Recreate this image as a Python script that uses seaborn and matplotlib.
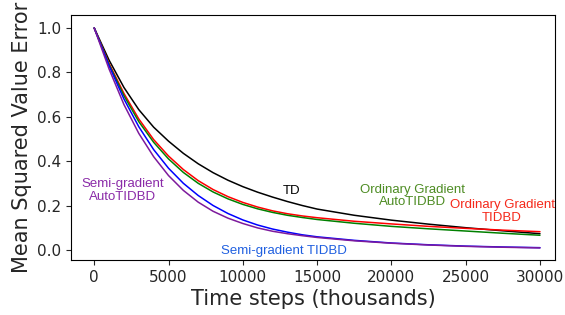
import numpy as np
import pandas as pd
import seaborn as sns
import matplotlib
matplotlib.use("Agg")
import matplotlib.pyplot as plt

steps = [0, 1000, 2000, 3000, 4000, 5000, 6000, 7000, 8000, 9000, 10000,
         11000, 12000, 13000, 14000, 15000, 17500, 20000, 22500, 25000,
         27500, 30000]

td = [1.0, 0.855, 0.732, 0.632, 0.553, 0.49, 0.435, 0.388, 0.348, 0.314, 0.285,
      0.26, 0.238, 0.218, 0.2, 0.184, 0.156, 0.134, 0.116, 0.1, 0.086, 0.073]
og_tidbd = [1.0, 0.84, 0.705, 0.59, 0.497, 0.423, 0.362, 0.312, 0.272, 0.24, 0.214,
            0.193, 0.176, 0.163, 0.153, 0.145, 0.129, 0.117, 0.106, 0.097, 0.089, 0.082]
og_auto = [1.0, 0.835, 0.695, 0.578, 0.485, 0.41, 0.349, 0.3, 0.261, 0.23, 0.205,
           0.185, 0.169, 0.156, 0.146, 0.137, 0.12, 0.106, 0.095, 0.085, 0.075, 0.066]
sg_tidbd = [1.0, 0.83, 0.68, 0.555, 0.452, 0.368, 0.30, 0.245, 0.2, 0.164, 0.135,
            0.112, 0.094, 0.08, 0.068, 0.059, 0.043, 0.031, 0.023, 0.017, 0.013, 0.01]
sg_auto = [1.0, 0.815, 0.655, 0.525, 0.42, 0.335, 0.268, 0.215, 0.174, 0.143, 0.119,
           0.099, 0.084, 0.073, 0.064, 0.056, 0.041, 0.03, 0.022, 0.016, 0.012, 0.009]

methods = ["TD", "Ordinary Gradient TIDBD", "Ordinary Gradient AutoTIDBD",
           "Semi-gradient TIDBD", "Semi-gradient AutoTIDBD"]
line_colors = ["black", "#ff0000", "#008000", "#0000ff", "#7d1a9c"]

df = pd.DataFrame({
    "step": steps * 5,
    "mse": td + og_tidbd + og_auto + sg_tidbd + sg_auto,
    "method": np.repeat(methods, len(steps)),
})

sns.set_style("ticks")

fig = plt.figure(figsize=(5.65, 3.15), dpi=100)
ax = fig.add_axes([0.126, 0.175, 0.856, 0.777])

sns.lineplot(data=df, x="step", y="mse", hue="method", hue_order=methods,
             palette=line_colors, linewidth=1.1, legend=False, ax=ax)

lab_font = ["Liberation Sans", "DejaVu Sans"]
ax.text(13250, 0.266, "TD", color="black", fontsize=9.5, ha="center", va="center",
        family=lab_font)
ax.text(21400, 0.243, "Ordinary Gradient\nAutoTIDBD", color="#4d8c23", fontsize=9.5,
        ha="center", va="center", family=lab_font, linespacing=1.1)
ax.text(27450, 0.171, "Ordinary Gradient\nTIDBD", color="#f5281a", fontsize=9.5,
        ha="center", va="center", family=lab_font, linespacing=1.1)
ax.text(12800, -0.006, "Semi-gradient TIDBD", color="#1f5fe0", fontsize=9.5,
        ha="center", va="center", family=lab_font)
ax.text(1900, 0.266, "Semi-gradient\nAutoTIDBD", color="#8a2aa8", fontsize=9.5,
        ha="center", va="center", family=lab_font, linespacing=1.1)

ax.set_xlim(-1550, 31000)
ax.set_ylim(-0.045, 1.058)
ax.set_xticks([0, 5000, 10000, 15000, 20000, 25000, 30000])
ax.set_yticks([0.0, 0.2, 0.4, 0.6, 0.8, 1.0])
ax.tick_params(labelsize=11)
ax.set_xlabel("Time steps (thousands)", fontsize=15, labelpad=3)
ax.set_ylabel("Mean Squared Value Error", fontsize=15, labelpad=4)
for s in ax.spines.values():
    s.set_color("black")

fig.savefig("out.png", dpi=100)
